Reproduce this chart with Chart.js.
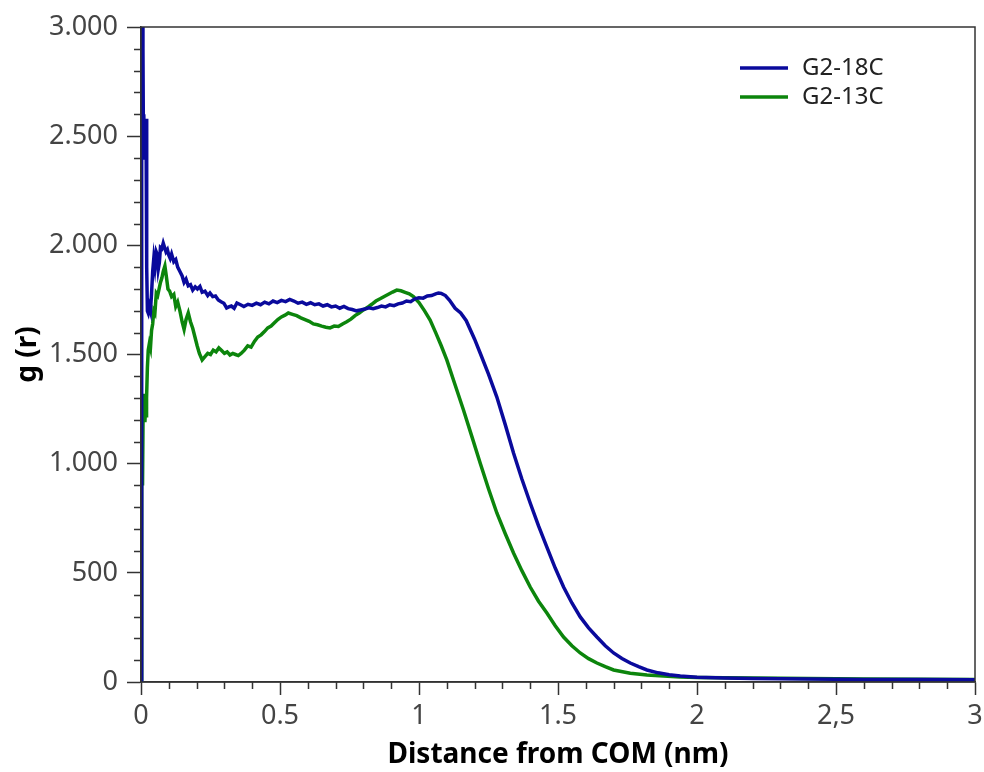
<!DOCTYPE html>
<html>
<head>
<meta charset="utf-8">
<title>g(r) vs distance from COM</title>
<script src="https://cdn.jsdelivr.net/npm/chart.js@4/dist/chart.umd.min.js"></script>
<style>
  html, body { margin: 0; padding: 0; background: #fff; }
</style>
</head>
<body>
<canvas id="rdfChart" width="984" height="772"></canvas>
<script>
// G2-18C curve (distance in nm, g(r))
const g18X = [0, 0.002, 0.003, 0.005, 0.007, 0.009, 0.010, 0.012, 0.014, 0.016, 0.018, 0.020, 0.021, 0.023, 0.026, 0.030, 0.034, 0.038,
  0.042, 0.046, 0.050, 0.055, 0.058, 0.062, 0.066, 0.070, 0.075, 0.080, 0.085, 0.090, 0.095, 0.100, 0.105, 0.110, 0.118, 0.125,
  0.132, 0.140, 0.148, 0.155, 0.162, 0.170, 0.178, 0.186, 0.195, 0.203, 0.212, 0.220, 0.230, 0.240, 0.248, 0.258, 0.268, 0.278,
  0.288, 0.298, 0.308, 0.316, 0.325, 0.335, 0.345, 0.358, 0.370, 0.385, 0.400, 0.415, 0.430, 0.445, 0.460, 0.475, 0.490, 0.505,
  0.520, 0.535, 0.550, 0.565, 0.580, 0.595, 0.610, 0.625, 0.640, 0.655, 0.670, 0.685, 0.700, 0.715, 0.730, 0.745, 0.760, 0.775,
  0.790, 0.805, 0.820, 0.835, 0.850, 0.865, 0.880, 0.895, 0.910, 0.925, 0.940, 0.955, 0.970, 0.985, 1.000, 1.015, 1.030, 1.045,
  1.060, 1.070, 1.080, 1.095, 1.110, 1.130, 1.150, 1.170, 1.200, 1.220, 1.250, 1.280, 1.310, 1.340, 1.370, 1.400, 1.430, 1.460,
  1.490, 1.520, 1.550, 1.580, 1.610, 1.640, 1.670, 1.700, 1.730, 1.760, 1.790, 1.820, 1.860, 1.900, 1.940, 2.000, 2.100, 2.200,
  2.400, 2.600, 2.800, 3.000];
const g18Y = [0, 1400, 3100, 3300, 2900, 2400, 2600, 2480, 2570, 2520, 2580, 2350, 1900, 1700, 1690, 1720, 1700, 1780,
  1880, 1940, 1900, 1970, 1960, 1890, 1920, 1990, 1985, 2010, 1990, 1970, 1980, 1955, 1940, 1960, 1925, 1935,
  1900, 1880, 1860, 1830, 1845, 1815, 1820, 1795, 1810, 1800, 1812, 1785, 1790, 1770, 1782, 1765, 1768, 1750,
  1742, 1735, 1713, 1718, 1722, 1712, 1736, 1728, 1720, 1730, 1725, 1735, 1728, 1740, 1732, 1745, 1738, 1748,
  1742, 1752, 1745, 1735, 1740, 1730, 1737, 1728, 1732, 1722, 1728, 1718, 1722, 1712, 1720, 1710, 1706, 1700,
  1704, 1708, 1714, 1710, 1715, 1722, 1718, 1728, 1724, 1732, 1736, 1745, 1742, 1755, 1760, 1758, 1768, 1770,
  1778, 1782, 1780, 1770, 1748, 1712, 1690, 1655, 1570, 1507, 1410, 1305, 1180, 1049, 930, 820, 715, 618,
  522, 435, 362, 298, 248, 206, 166, 133, 108, 87, 70, 55, 42, 33, 27, 22, 18, 16,
  14, 12, 11, 10];

// G2-13C curve (distance in nm, g(r))
const g13X = [0, 0.002, 0.003, 0.004, 0.005, 0.006, 0.008, 0.010, 0.012, 0.014, 0.016, 0.018, 0.020, 0.023, 0.026, 0.030, 0.034, 0.038,
  0.042, 0.046, 0.050, 0.055, 0.060, 0.065, 0.070, 0.075, 0.080, 0.086, 0.091, 0.097, 0.103, 0.110, 0.118, 0.125, 0.132, 0.140,
  0.148, 0.155, 0.162, 0.170, 0.178, 0.186, 0.194, 0.202, 0.210, 0.220, 0.230, 0.240, 0.250, 0.260, 0.270, 0.280, 0.290, 0.300,
  0.310, 0.320, 0.330, 0.340, 0.350, 0.360, 0.372, 0.384, 0.396, 0.408, 0.420, 0.432, 0.444, 0.456, 0.468, 0.480, 0.492, 0.505,
  0.518, 0.530, 0.545, 0.560, 0.575, 0.590, 0.605, 0.620, 0.635, 0.650, 0.665, 0.680, 0.695, 0.710, 0.725, 0.740, 0.755, 0.770,
  0.785, 0.800, 0.815, 0.830, 0.845, 0.860, 0.875, 0.890, 0.905, 0.920, 0.935, 0.950, 0.965, 0.980, 1.000, 1.020, 1.040, 1.060,
  1.080, 1.100, 1.130, 1.160, 1.190, 1.220, 1.250, 1.280, 1.310, 1.340, 1.370, 1.400, 1.430, 1.460, 1.490, 1.520, 1.550, 1.580,
  1.610, 1.640, 1.670, 1.700, 1.760, 1.820, 1.880, 1.940, 2.000, 2.200, 2.400, 2.600, 2.800, 3.000];
const g13Y = [0, 300, 870, 1300, 1180, 900, 1320, 1200, 1260, 1190, 1250, 1220, 1300, 1440, 1520, 1550, 1530, 1610,
  1640, 1700, 1690, 1780, 1770, 1800, 1830, 1850, 1880, 1905, 1860, 1800, 1790, 1765, 1775, 1720, 1740, 1700,
  1650, 1615, 1660, 1690, 1650, 1620, 1580, 1540, 1505, 1475, 1490, 1505, 1500, 1520, 1512, 1530, 1518, 1505,
  1512, 1498, 1505, 1500, 1495, 1505, 1520, 1540, 1534, 1560, 1580, 1590, 1605, 1622, 1630, 1645, 1660, 1672,
  1680, 1690, 1684, 1678, 1668, 1660, 1652, 1640, 1636, 1630, 1625, 1622, 1630, 1628, 1640, 1650, 1662, 1678,
  1690, 1704, 1716, 1730, 1745, 1755, 1766, 1776, 1786, 1795, 1792, 1785, 1778, 1765, 1738, 1700, 1658, 1600,
  1540, 1475, 1360, 1246, 1125, 1003, 885, 774, 680, 591, 510, 435, 370, 316, 258, 206, 166, 133,
  107, 87, 70, 55, 40, 32, 27, 23, 21, 18, 16, 14, 13, 12];

const seriesLabels = ['G2-18C', 'G2-13C'];
const seriesColors = ['#0a0a9c', '#0c850c'];

const xTickValues = [0, 0.5, 1, 1.5, 2, 2.5, 3];
const xTickLabels = ['0', '0.5', '1', '1.5', '2', '2,5', '3'];
const yTickValues = [0, 500, 1000, 1500, 2000, 2500, 3000];
const yTickLabels = ['0', '500', '1.000', '1.500', '2.000', '2.500', '3.000'];
const xMinorStep = 0.1;
const yMinorStep = 100;

const FONT = '"Noto Sans", "Open Sans", sans-serif';
const AXIS_COLOR = '#333';

function toPoints(xs, ys) {
    return xs.map((x, i) => ({ x: x, y: ys[i] }));
}

// frame around plot area + minor ticks + legend inside plot
const framePlugin = {
    id: 'frame',
    afterDraw(chart) {
        const { ctx, chartArea: a, scales } = chart;
        ctx.save();
        ctx.strokeStyle = AXIS_COLOR;
        ctx.lineWidth = 1.5;
        ctx.strokeRect(a.left, a.top, a.right - a.left, a.bottom - a.top);

        // minor ticks
        ctx.beginPath();
        for (let v = yMinorStep; v < scales.y.max; v += yMinorStep) {
            if (Math.abs(v % 500) < 1e-6) continue;
            const py = Math.round(scales.y.getPixelForValue(v)) + 0.5;
            ctx.moveTo(a.left - 7, py);
            ctx.lineTo(a.left, py);
        }
        for (let i = 1; i < 30; i++) {
            if (i % 5 === 0) continue;
            const px = Math.round(scales.x.getPixelForValue(i * xMinorStep)) + 0.5;
            ctx.moveTo(px, a.bottom);
            ctx.lineTo(px, a.bottom + 7);
        }
        ctx.stroke();

        const items = chart.data.datasets;
        ctx.font = '24px ' + FONT;
        ctx.textBaseline = 'middle';
        ctx.fillStyle = '#222';
        items.forEach((ds, i) => {
            const y = 68 + i * 29;
            ctx.strokeStyle = ds.borderColor;
            ctx.lineWidth = 3.5;
            ctx.beginPath();
            ctx.moveTo(740, y);
            ctx.lineTo(788, y);
            ctx.stroke();
            ctx.fillText(ds.label, 802, y);
        });
        ctx.restore();
    }
};

const ctx = document.getElementById('rdfChart').getContext('2d');
const rdfChart = new Chart(ctx, {
    type: 'line',
    data: {
        datasets: [
            {
                label: seriesLabels[0],
                data: toPoints(g18X, g18Y),
                borderColor: seriesColors[0],
                borderWidth: 3.5,
                pointRadius: 0,
                tension: 0
            },
            {
                label: seriesLabels[1],
                data: toPoints(g13X, g13Y),
                borderColor: seriesColors[1],
                borderWidth: 3.5,
                pointRadius: 0,
                tension: 0
            }
        ]
    },
    options: {
        responsive: false,
        animation: false,
        layout: { padding: { top: 27, right: 9, left: 0, bottom: 0 } },
        scales: {
            x: {
                type: 'linear',
                min: 0,
                max: 3,
                afterBuildTicks: (axis) => { axis.ticks = xTickValues.map(v => ({ value: v })); },
                afterFit: (scale) => {
                    scale.height = 90;
                    scale.paddingLeft = 0;
                    scale.paddingRight = 0;
                },
                ticks: {
                    callback: (value, index) => xTickLabels[index],
                    color: '#444',
                    font: { family: FONT, size: 27 },
                    padding: 5,
                    maxRotation: 0,
                    autoSkip: false
                },
                grid: {
                    drawOnChartArea: false,
                    tickLength: 13,
                    tickColor: AXIS_COLOR,
                    tickWidth: 1.5
                },
                border: { color: AXIS_COLOR, width: 1.5 },
                title: {
                    display: true,
                    text: 'Distance from COM (nm)',
                    color: '#000',
                    font: { family: FONT, size: 28, weight: 'bold' },
                    padding: { top: 0, bottom: 0 }
                }
            },
            y: {
                type: 'linear',
                min: 0,
                max: 3000,
                afterBuildTicks: (axis) => { axis.ticks = yTickValues.map(v => ({ value: v })); },
                afterFit: (scale) => { scale.width = 141; },
                ticks: {
                    callback: (value, index) => yTickLabels[index],
                    color: '#444',
                    font: { family: FONT, size: 27 },
                    padding: 9
                },
                grid: {
                    drawOnChartArea: false,
                    tickLength: 14,
                    tickColor: AXIS_COLOR,
                    tickWidth: 1.5
                },
                border: { color: AXIS_COLOR, width: 1.5 },
                title: {
                    display: true,
                    text: 'g (r)',
                    color: '#000',
                    font: { family: FONT, size: 28, weight: 'bold' },
                    padding: { top: 11, bottom: 0 }
                }
            }
        },
        plugins: {
            legend: { display: false },
            tooltip: { enabled: false }
        }
    },
    plugins: [framePlugin]
});
</script>
</body>
</html>
